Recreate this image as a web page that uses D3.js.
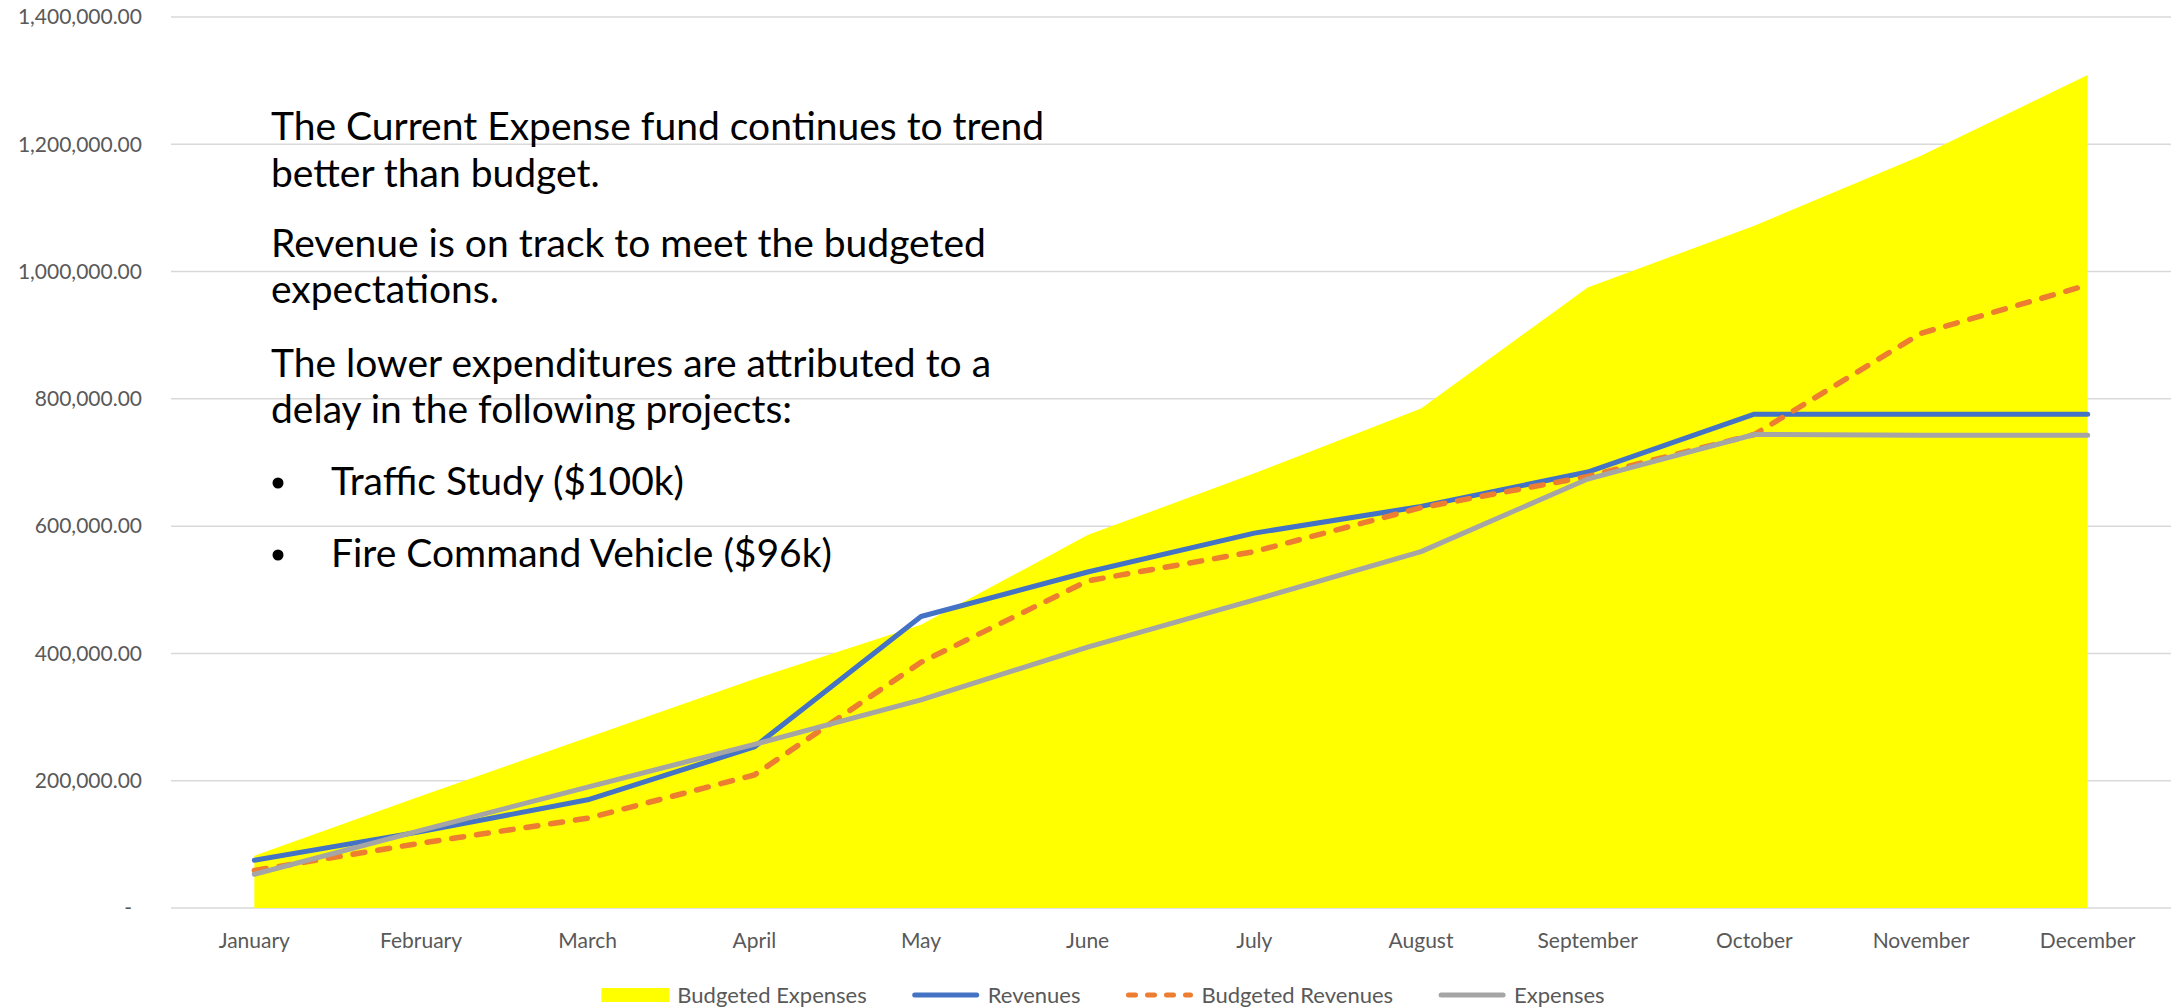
<html>
<head>
  <style>
  body { margin: 0; background: #fff; }
  #chart text { font-family: Lato, "Open Sans", sans-serif; }
  .axis text { fill: #595959; font-size: 21px; }
  .axis path, .axis line { display: none; }
  .grid line { stroke: #d9d9d9; stroke-width: 1.5; }
  .note { fill: #000; font-size: 39px; }
  .legend text { fill: #595959; font-size: 22px; }
  </style>
  <script src="https://d3js.org/d3.v7.min.js"></script>
</head>
<body>
  <svg id="chart"></svg>
</body>
  <script>

  var months = ["January", "February", "March", "April", "May", "June",
                "July", "August", "September", "October", "November", "December"];

  var budgetedExpenses = [82000, 176000, 268000, 360000, 445000, 586000,
                          683000, 785000, 975000, 1072000, 1182000, 1309000];
  var revenues = [75000, 120000, 170000, 253000, 458000, 528000,
                  589000, 631000, 685000, 776000, 776000, 776000];
  var budgetedRevenues = [59000, 102000, 141000, 209000, 386000, 514000,
                          560000, 629000, 678000, 744000, 903000, 979000];
  var expenses = [53000, 122000, 190000, 257000, 327000, 410000,
                  484000, 560000, 674000, 744000, 743000, 743000];

  var yTicks = [0, 200000, 400000, 600000, 800000, 1000000, 1200000, 1400000];
  var yTickLabels = ["-", "200,000.00", "400,000.00", "600,000.00", "800,000.00",
                     "1,000,000.00", "1,200,000.00", "1,400,000.00"];

  var seriesNames = ["Budgeted Expenses", "Revenues", "Budgeted Revenues", "Expenses"];

  var notes = [
    "The Current Expense fund continues to trend",
    "better than budget.",
    "Revenue is on track to meet the budgeted",
    "expectations.",
    "The lower expenditures are attributed to a",
    "delay in the following projects:"
  ];
  var bullets = ["Traffic Study ($100k)", "Fire Command Vehicle ($96k)"];

  var width = 2178,
      height = 1008;
  // plot area edges (avoid the name "top", it clashes with window.top)
  var plotLeft = 171, plotRight = 2171, plotTop = 17, plotBottom = 908;

  var svg = d3.select("#chart")
      .attr("width", width)
      .attr("height", height);

  var x = d3.scaleBand()
      .domain(months)
      .range([plotLeft, plotRight]);

  var y = d3.scaleLinear()
      .domain([0, 1400000])
      .range([plotBottom, plotTop]);

  function cx(d, i) { return x(months[i]) + x.bandwidth() / 2; }

  // gridlines
  svg.append("g")
      .attr("class", "grid")
    .selectAll("line")
      .data(yTicks)
    .enter().append("line")
      .attr("x1", plotLeft)
      .attr("x2", plotRight)
      .attr("y1", function(d) { return y(d); })
      .attr("y2", function(d) { return y(d); });

  // y axis labels
  var yAxis = svg.append("g")
      .attr("class", "axis")
      .attr("transform", "translate(" + (plotLeft - 29) + ",0)")
      .call(d3.axisLeft(y)
        .tickValues(yTicks)
        .tickSize(0)
        .tickPadding(0)
        .tickFormat(function(d, i) { return yTickLabels[i]; }));
  yAxis.selectAll("text")
      .attr("dx", function(d) { return d === 0 ? -10 : 0; });

  // x axis labels
  svg.append("g")
      .attr("class", "axis")
      .attr("transform", "translate(0," + plotBottom + ")")
      .call(d3.axisBottom(x).tickSize(0).tickPadding(25));

  // budgeted expenses area
  var area = d3.area()
      .x(cx)
      .y0(y(0))
      .y1(function(d) { return y(d); });

  svg.append("path")
      .datum(budgetedExpenses)
      .attr("fill", "#ffff00")
      .attr("d", area);

  var line = d3.line()
      .x(cx)
      .y(function(d) { return y(d); });

  svg.append("path")
      .datum(revenues)
      .attr("fill", "none")
      .attr("stroke", "#4472c4")
      .attr("stroke-width", 5)
      .attr("stroke-linecap", "round")
      .attr("stroke-linejoin", "round")
      .attr("d", line);

  svg.append("path")
      .datum(budgetedRevenues)
      .attr("fill", "none")
      .attr("stroke", "#ed7d31")
      .attr("stroke-width", 5.5)
      .attr("stroke-dasharray", "12,13")
      .attr("stroke-linecap", "round")
      .attr("stroke-linejoin", "round")
      .attr("d", line);

  svg.append("path")
      .datum(expenses)
      .attr("fill", "none")
      .attr("stroke", "#a5a5a5")
      .attr("stroke-width", 5)
      .attr("stroke-linecap", "round")
      .attr("stroke-linejoin", "round")
      .attr("d", line);

  // legend
  var legend = svg.append("g").attr("class", "legend");
  var swatchW = 68, gapText = 8, gapItem = 45, legendY = 995;
  var items = legend.selectAll("g")
      .data(seriesNames)
    .enter().append("g");
  items.append("text")
      .attr("y", legendY)
      .attr("dy", "0.35em")
      .text(function(d) { return d; });
  var widths = [];
  items.select("text").each(function() { widths.push(this.getComputedTextLength()); });
  var total = d3.sum(widths) + seriesNames.length * (swatchW + gapText) + (seriesNames.length - 1) * gapItem;
  var pos = 1103 - total / 2;
  items.each(function(d, i) {
    var g = d3.select(this);
    if (i === 0) {
      g.append("rect")
          .attr("x", pos).attr("y", legendY - 7)
          .attr("width", swatchW).attr("height", 14)
          .attr("fill", "#ffff00");
    } else {
      g.append("line")
          .attr("x1", pos + 3).attr("x2", pos + swatchW - 3)
          .attr("y1", legendY).attr("y2", legendY)
          .attr("stroke", ["", "#4472c4", "#ed7d31", "#a5a5a5"][i])
          .attr("stroke-width", 5)
          .attr("stroke-linecap", "round")
          .attr("stroke-dasharray", i === 2 ? "7,12" : null);
    }
    g.select("text").attr("x", pos + swatchW + gapText);
    pos += swatchW + gapText + widths[i] + gapItem;
  });

  // text box
  var noteY = [140, 187, 257, 303, 377, 423];
  svg.selectAll(".note-line")
      .data(notes)
    .enter().append("text")
      .attr("class", "note")
      .attr("x", 271)
      .attr("y", function(d, i) { return noteY[i]; })
      .text(function(d) { return d; });

  var bulletY = [495, 567];
  var b = svg.selectAll(".bullet")
      .data(bullets)
    .enter().append("g");
  b.append("circle")
      .attr("cx", 278)
      .attr("cy", function(d, i) { return bulletY[i] - 12; })
      .attr("r", 5.5)
      .attr("fill", "#000");
  b.append("text")
      .attr("class", "note")
      .attr("x", 331)
      .attr("y", function(d, i) { return bulletY[i]; })
      .text(function(d) { return d; });

  </script>
</html>
